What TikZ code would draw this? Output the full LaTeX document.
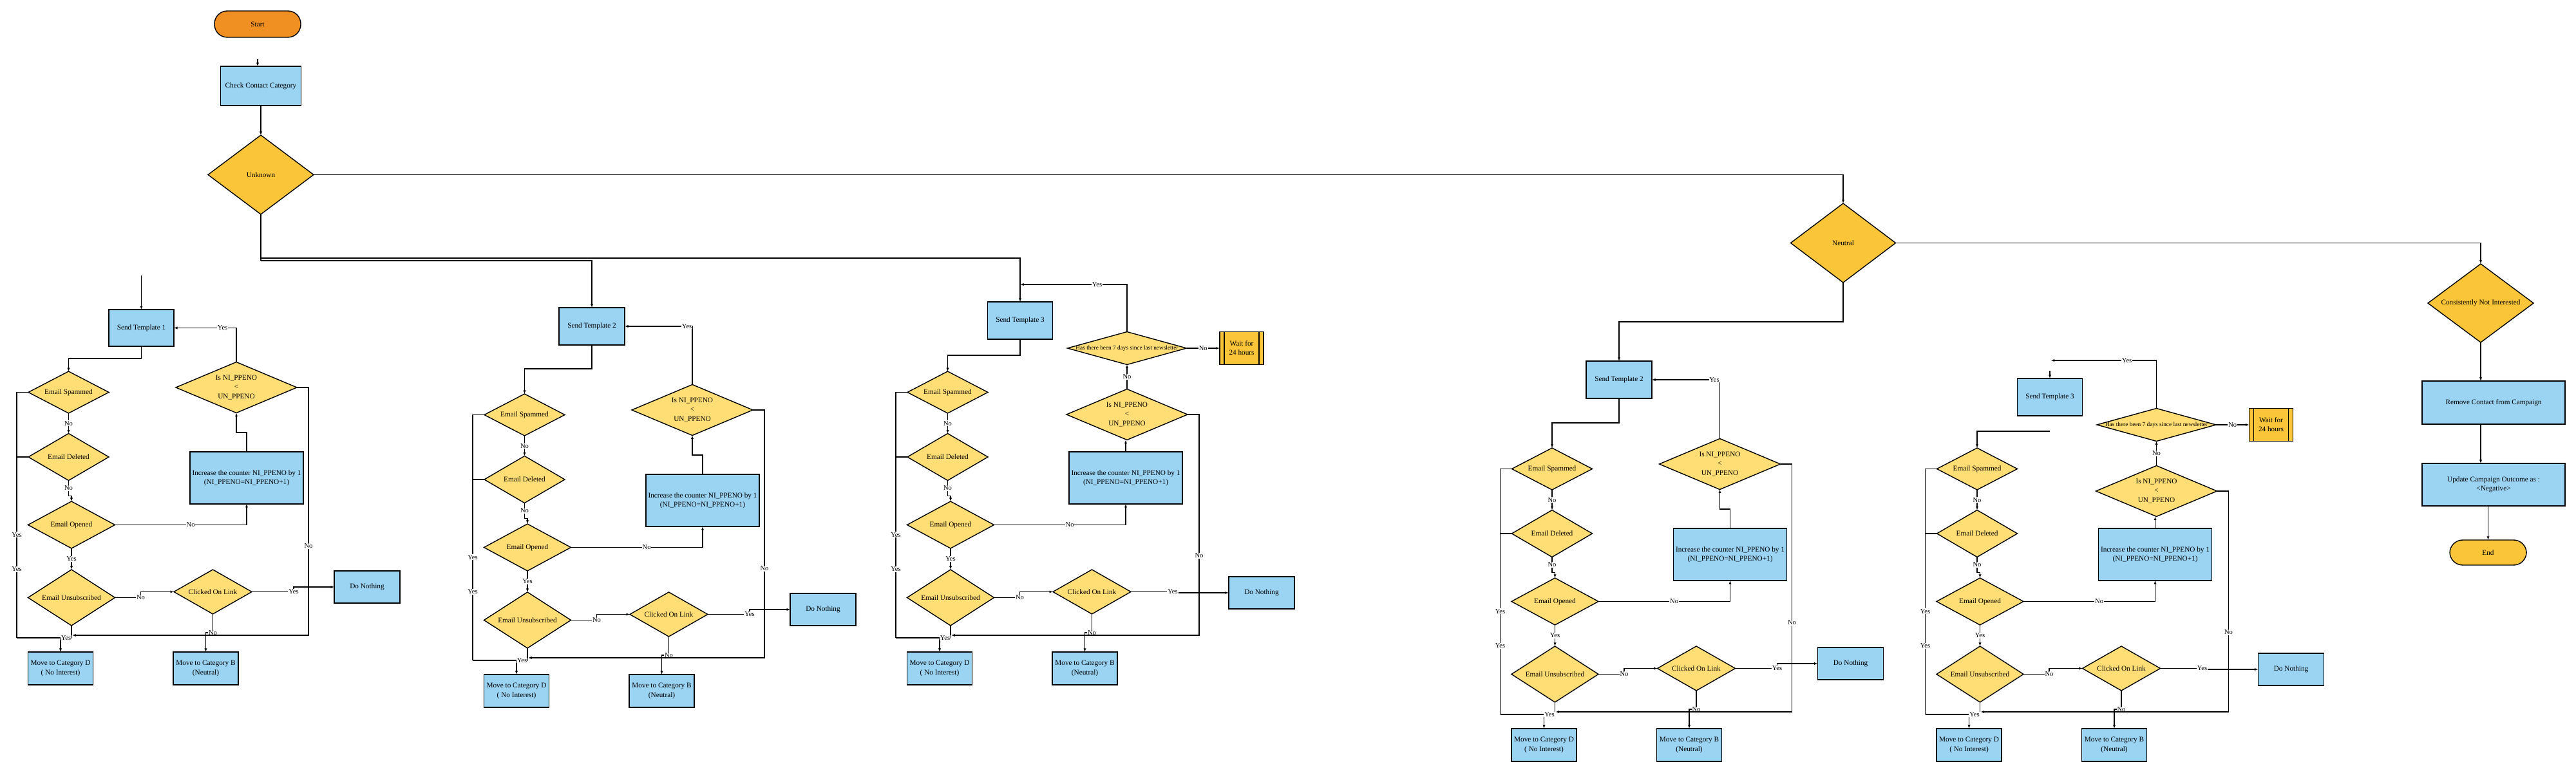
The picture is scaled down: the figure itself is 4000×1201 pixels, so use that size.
\documentclass[tikz,border=0pt]{standalone}
\usepackage{fontspec}
\setmainfont{Liberation Serif}
\usetikzlibrary{shapes.geometric,arrows.meta}
\definecolor{boxblue}{HTML}{9BD3F2}
\definecolor{lyel}{HTML}{FFDE75}
\definecolor{dyel}{HTML}{FBC539}
\definecolor{orng}{HTML}{F08F22}
\newcommand{\mainfs}{\fontsize{3.2pt}{4pt}\selectfont}
\newcommand{\labfs}{\fontsize{3pt}{3.6pt}\selectfont}
\newcommand{\smallfs}{\fontsize{2.65pt}{3.2pt}\selectfont}
\tikzset{
  sz/.style 2 args={minimum width=#1*0.1mm, minimum height=#2*0.1mm},
  proc/.style={rectangle, draw=black, line width=0.45pt, fill=boxblue, inner sep=0pt, outer sep=0pt, align=center, font=\mainfs},
  term/.style={rectangle, rounded corners=2mm, draw=black, line width=0.4pt, inner sep=0pt, outer sep=0pt, font=\mainfs},
  dec/.style={diamond, draw=black, line width=0.4pt, fill=lyel, inner sep=0pt, outer sep=0pt},
  dtx/.style={font=\mainfs, align=center, inner sep=0pt},
  lab/.style={font=\labfs, fill=white, inner sep=0.25pt},
  ln/.style={draw=black, line width=0.35pt},
  ar/.style={ln, -{Latex[length=0.55mm,width=0.42mm]}},
}
% #1 isd x, #2 isd y, #3 right loop x, #4 do-nothing x, #5 do-nothing y, #6 prefix
\newcommand{\flowbody}[6]{%
  \node[dec, sz={125}{65}, label={[dtx]center:Email Spammed}] (#6es) at (106.5,609.5) {};
  \node[dec, sz={125}{73}, label={[dtx]center:Email Deleted}] (#6ed) at (106.5,710) {};
  \node[dec, sz={135}{73}, label={[dtx]center:Email Opened}] (#6eo) at (111,815.5) {};
  \node[dec, sz={135}{87}, label={[dtx]center:Email Unsubscribed}] (#6eu) at (111,928.5) {};
  \node[dec, sz={121}{69}, label={[dtx]center:Clicked On Link}] (#6col) at (330.5,919.5) {};
  \node[dec, sz={188}{79}, label={[dtx]center:{Is NI\_PPENO\\<\\UN\_PPENO}}] (#6isd) at (#1,#2) {};
  \node[proc, sz={176}{81}] (#6inc) at (383,742.5) {Increase the counter NI\_PPENO by 1\\(NI\_PPENO=NI\_PPENO+1)};
  \node[proc, sz={102}{50}] (#6dn) at (#4,#5) {Do Nothing};
  \node[proc, sz={101}{51}] (#6md) at (94,1038.5) {Move to Category D\\( No Interest)};
  \node[proc, sz={101}{51}] (#6mb) at (319.5,1038.5) {Move to Category B\\(Neutral)};
  \coordinate (#6lj) at (26,991);
  \coordinate (#6ej) at (111,991);
  \coordinate (#6rj) at (#3,987);
  \coordinate (#6mj) at (112,987);
  \draw[ar] (#6es.south) -- node[lab]{No} (#6ed.north);
  \draw[ar] (#6ed.south) -- node[lab]{No} ++(0,24) -| (#6eo.north);
  \draw[ar] (#6eo.south) -- node[lab]{Yes} (#6eu.north);
  \draw[ar] (#6eu.east) -- ++(40,0) node[lab]{No} |- (#6col.west);
  \draw[ar] (#6col.east) -- ++(65,0) node[lab]{Yes} |- (#6dn.west);
  \draw[ar] (#6col.south) -- ++(0,29) node[lab]{No} -| (#6mb.north);
  \draw[ar] (#6isd.east) -| node[lab,pos=0.82]{No} (#6rj) -- (#6mj);
  \draw[ln] (#6es.west) -| node[lab,pos=0.79]{Yes} node[lab,pos=0.86]{Yes} (#6lj);
  \draw[ln] (#6ed.west) -- (#6ed.west -| #6lj);
  \draw[ln] (#6lj) -- (#6md.north |- #6lj);
  \draw[ar] (#6eu.south) -- (#6ej) -- node[lab]{Yes} (#6md.north |- #6ej) -- (#6md.north);
  \draw[ar] (#6eo.east) -- node[lab,pos=0.575]{No} (#6eo.east -| #6inc.south) -- (#6inc.south);
}
\newcommand{\waitextra}[1]{%
  \node[dec, sz={185}{51}, label={[dtx,font=\smallfs]center:Has there been 7 days since last newsletter}] (#1sev) at (385,541) {};
  \node[proc, fill=dyel, sz={68}{51}] (#1wait) at (563,541) {Wait for\\24 hours};
  \draw[ln] ([xshift=0.7mm]#1wait.north west) -- ([xshift=0.7mm]#1wait.south west);
  \draw[ln] ([xshift=-0.7mm]#1wait.north east) -- ([xshift=-0.7mm]#1wait.south east);
  \draw[ar] (#1isd.north) -- node[lab]{No} (#1sev.south);
  \draw[ar] (#1sev.east) -- node[lab]{No} (#1wait.west);
  \draw[ar] (#1inc.north) -- (#1inc.north |- #1isd.south);
}
\begin{document}
\begin{tikzpicture}[x=0.1mm,y=-0.1mm]
\useasboundingbox (0,0) rectangle (4000,1201);

% top
\node[term, fill=orng, sz={134}{41}] (start) at (400,37.5) {Start};
\node[proc, sz={125}{61}] (chk) at (405,133.5) {Check Contact Category};
\coordinate (sin) at (400,92);
\draw[ar] (sin) -- (sin |- chk.north);
\node[dec, fill=dyel, sz={164}{123}, label={[dtx]center:Unknown}] (unk) at (405,271.5) {};
\draw[ar] (chk.south) -- (unk.north);
\node[dec, fill=dyel, sz={163}{123}, label={[dtx]center:Neutral}] (neu) at (2862,377.5) {};
\node[dec, fill=dyel, sz={164}{122}, label={[dtx]center:Consistently Not Interested}] (cni) at (3852,471) {};
\node[proc, sz={222}{67}] (rem) at (3872,625.5) {Remove Contact from Campaign};
\node[proc, sz={222}{66}] (upd) at (3872,753) {Update Campaign Outcome as :\\<Negative>};
\node[term, fill=dyel, sz={119}{39}] (endn) at (3863.5,858.5) {End};

% block 1
\flowbody{367}{602}{479}{570}{912}{b1}
\node[proc, sz={101}{57}] (b1st) at (219.5,509.5) {Send Template 1};
\coordinate (b1in) at (219.5,428);
\draw[ar] (b1in) -- (b1st.north);
\draw[ar] (b1st.south) -- ++(0,19) -| (b1es.north);
\draw[ar] (b1isd.north) |- node[lab,pos=0.61]{Yes} (b1st.east);
\draw[ar] (b1inc.north) -- ++(0,-30) -| (b1isd.south);

% block 2
\begin{scope}[shift={(708,35)}]
\flowbody{367}{602}{479}{570}{912}{b2}
\node[proc, sz={102}{58}] (b2st) at (211,472) {Send Template 2};
\draw[ar] (b2st.south) -- ++(0,37) -| (b2es.north);
\draw[ar] (b2isd.north) |- node[lab,pos=0.54]{Yes} (b2st.east);
\draw[ar] (b2inc.north) -- ++(0,-30) -| (b2isd.south);
\end{scope}

% block 3
\begin{scope}[shift={(1365,0)}]
\flowbody{385}{644}{497}{594}{921}{b3}
\waitextra{b3}
\node[proc, sz={101}{58}] (b3st) at (219,498) {Send Template 3};
\coordinate (b3yj) at (219,442);
\draw[ar] (b3st.south) -- ++(0,25) -| (b3es.north);
\draw[ar] (b3sev.north) |- node[lab,pos=0.64]{Yes} (b3yj);
\end{scope}

% block 4
\begin{scope}[shift={(2303.5,119)}]
\flowbody{367}{602}{479}{570}{912}{b4}
\node[proc, sz={102}{58}] (b4st) at (210.5,471) {Send Template 2};
\draw[ar] (b4st.south) -- ++(0,38) -| (b4es.north);
\draw[ar] (b4isd.north) |- node[lab,pos=0.54]{Yes} (b4st.east);
\draw[ar] (b4inc.north) -- ++(0,-30) -| (b4isd.south);
\end{scope}

% block 5
\begin{scope}[shift={(2963.5,119)}]
\flowbody{385}{644}{497}{594}{921}{b5}
\waitextra{b5}
\node[proc, sz={101}{58}] (b5st) at (219.5,498) {Send Template 3};
\coordinate (b5in) at (219.5,457);
\coordinate (b5yj) at (221,441);
\coordinate (b5sj) at (219.5,551);
\draw[ar] (b5in) -- (b5st.north);
\draw[ar] (b5sj) -| (b5es.north);
\draw[ar] (b5sev.north) |- node[lab,pos=0.64]{Yes} (b5yj);
\end{scope}

% main connectors
\coordinate (ubr) at (405,401);
\coordinate (ubr2) at (405,405);
\draw[ln] (unk.south) -- (ubr2);
\draw[ar] (ubr2) -| (b2st.north);
\draw[ar] (ubr) -| (b3st.north);
\draw[ar] (unk.east) -| (neu.north);
\draw[ar] (neu.east) -| (cni.north);
\draw[ar] (neu.south) -- ++(0,61) -| (b4st.north);
\draw[ar] (cni.south) -- (cni.south |- rem.north);
\draw[ar] (rem.south -| cni.south) -- (upd.north -| cni.south);
\draw[ar] (upd.south -| endn.north) -- (endn.north);
\end{tikzpicture}
\end{document}
